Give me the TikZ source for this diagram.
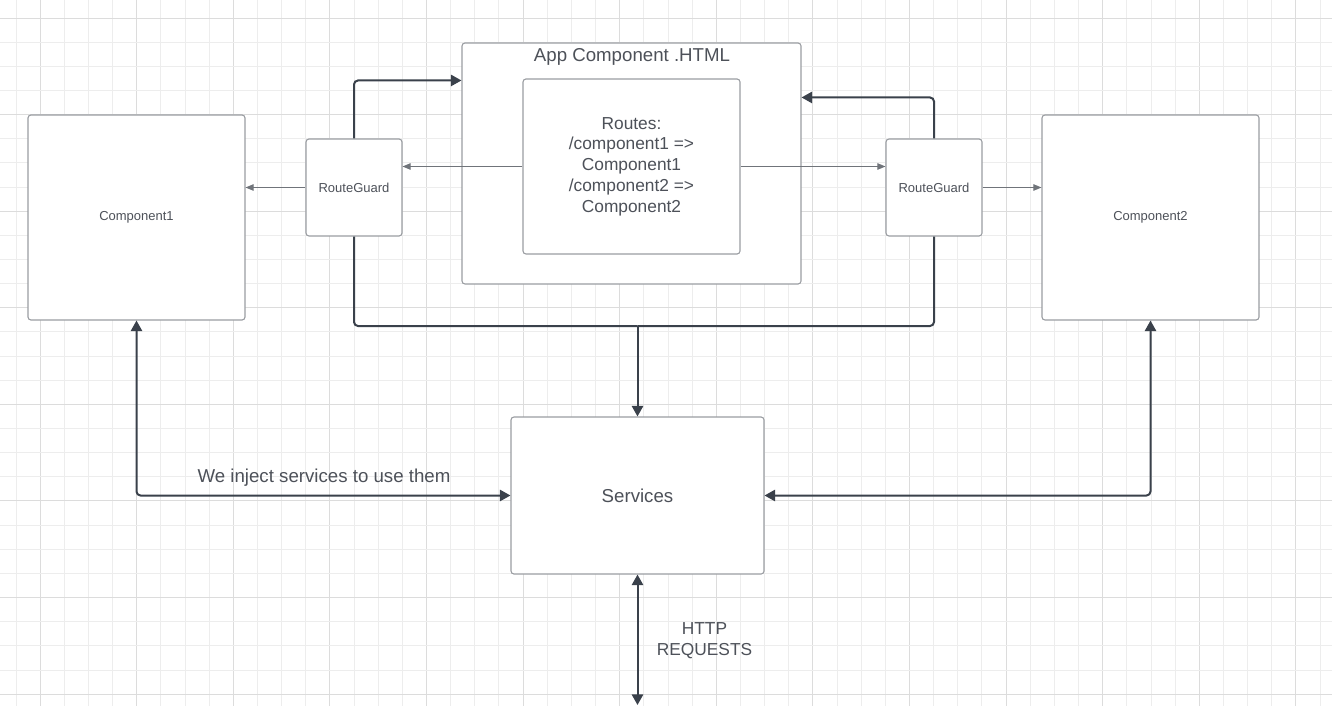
\documentclass[tikz,border=0pt]{standalone}
\usepackage{fontspec}
\setmainfont{Liberation Sans}
\usetikzlibrary{arrows.meta,calc}
\definecolor{gridminor}{HTML}{EDEDED}
\definecolor{gridmajor}{HTML}{DCDCDC}
\definecolor{boxline}{HTML}{9A9DA2}
\definecolor{txt}{HTML}{4D5159}
\definecolor{thickline}{HTML}{3A414B}
\definecolor{thinline}{HTML}{70747A}
\begin{document}
\begin{tikzpicture}[x=0.75pt,y=-0.75pt,
  box/.style={draw=boxline,line width=0.8pt,fill=white,rounded corners=2.2pt,inner sep=0pt,text=txt,align=center},
  lbl/.style={text=txt,inner sep=0pt,align=center},
  thickarrow/.style={draw=thickline,line width=1.5pt,rounded corners=3pt,-{Triangle[length=8pt,width=8.5pt]}},
  thickline/.style={draw=thickline,line width=1.5pt,rounded corners=3pt},
  bothways/.style={draw=thickline,line width=1.5pt,rounded corners=3pt,{Triangle[length=8pt,width=8.5pt]}-{Triangle[length=8pt,width=8.5pt]}},
  thinarrow/.style={draw=thinline,line width=0.75pt,-{Triangle[length=6pt,width=4.8pt]},color=thinline}
]
\useasboundingbox (0,0) rectangle (1332,706);
\fill[white] (0,0) rectangle (1332,706);
% grid
\foreach \i in {0,...,54}{
  \pgfmathsetmacro\gx{floor(16+24.15*\i)+0.5}
  \pgfmathtruncatemacro\m{mod(\i,4)}
  \ifnum\m=1 \draw[gridmajor,line width=0.75pt] (\gx,0) -- (\gx,706);
  \else \draw[gridminor,line width=0.75pt] (\gx,0) -- (\gx,706); \fi
}
\foreach \j in {0,...,28}{
  \pgfmathsetmacro\gy{floor(18+24.15*\j)+0.5}
  \pgfmathtruncatemacro\m{mod(\j,4)}
  \ifnum\m=0 \draw[gridmajor,line width=0.75pt] (0,\gy) -- (1332,\gy);
  \else \draw[gridminor,line width=0.75pt] (0,\gy) -- (1332,\gy); \fi
}
% boxes
\node[box,minimum width=217*0.75pt,minimum height=205*0.75pt,font=\fontsize{9.75}{12}\selectfont] (c1) at (136.5,217.5) {Component1};
\node[box,minimum width=217*0.75pt,minimum height=205*0.75pt,font=\fontsize{9.75}{12}\selectfont] (c2) at (1150.5,217.5) {Component2};
\node[box,minimum width=96*0.75pt,minimum height=97*0.75pt,font=\fontsize{9.75}{12}\selectfont] (rgl) at (354,187.5) {RouteGuard};
\node[box,minimum width=96*0.75pt,minimum height=97*0.75pt,font=\fontsize{9.75}{12}\selectfont] (rgr) at (934,187.5) {RouteGuard};
\node[box,minimum width=339*0.75pt,minimum height=241*0.75pt] (app) at (631.5,163.5) {};
\node[lbl,font=\fontsize{14}{16}\selectfont] (apptitle) at (632,57) {App Component .HTML};
\node[box,minimum width=217*0.75pt,minimum height=175*0.75pt,font=\fontsize{13}{15.6}\selectfont] (routes) at (631.5,166.5) {Routes:\\/component1 =>\\Component1\\/component2 =>\\Component2};
\node[box,minimum width=253*0.75pt,minimum height=157*0.75pt,font=\fontsize{14}{16}\selectfont] (srv) at (637.5,495.5) {Services};
% coordinates
\coordinate (aL) at ($(app.north west)+(0,38)$);
\coordinate (aR) at ($(app.north east)+(0,55)$);
\coordinate (j) at (637.5,326);
\coordinate (http) at (637.5,705);
% connectors
\draw[thinarrow] (routes.west) -- (rgl.east |- routes.west);
\draw[thinarrow] (rgl.west) -- (c1.east |- rgl.west);
\draw[thinarrow] (routes.east) -- (rgr.west |- routes.east);
\draw[thinarrow] (rgr.east) -- (c2.west |- rgr.east);
\draw[thickarrow] (rgl.north) |- (aL);
\draw[thickarrow] (rgr.north) |- (aR);
\draw[thickline] (rgl.south) |- (j);
\draw[thickline] (rgr.south) |- (j);
\draw[thickarrow] (j) -- (srv.north);
\draw[bothways] (c1.south) |- (srv.west);
\draw[bothways] (c2.south) |- (srv.east);
\draw[bothways] (srv.south) -- (http);
% labels
\node[lbl,font=\fontsize{14}{16}\selectfont] (inject) at (324,478) {We inject services to use them};
\node[lbl,font=\fontsize{13}{15.8}\selectfont] (httplbl) at (704.5,641) {HTTP\\REQUESTS};
\end{tikzpicture}
\end{document}
